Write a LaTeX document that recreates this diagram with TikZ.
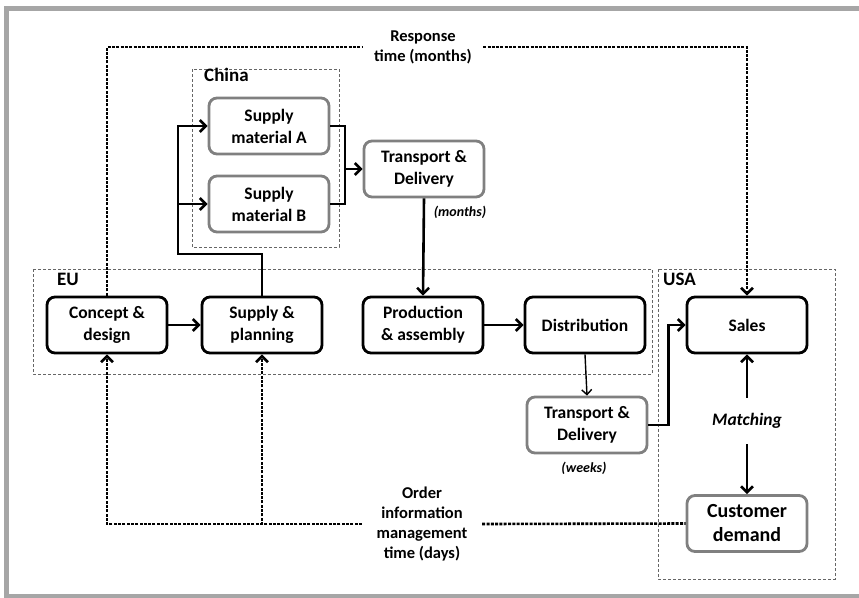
\documentclass[tikz,border=0pt]{standalone}
\usepackage{fontspec}
\setmainfont{Carlito}
\usetikzlibrary{arrows.meta}

\tikzset{
  stage/.style={draw=black, line width=2.8pt, rounded corners=8pt, fill=white,
    minimum width=120pt, minimum height=56pt, inner sep=0pt, align=center,
    font=\fontsize{17.5}{22}\selectfont\bfseries},
  supplier/.style={stage, draw=black!50},
  region/.style={draw=black!60, dash pattern=on 3pt off 2pt, line width=0.9pt},
  flow/.style={line width=2.6pt, -{Straight Barb[length=6pt,width=12pt]}},
  info/.style={flow, dash pattern=on 3pt off 1.3pt},
  note/.style={inner sep=0pt, minimum width=120pt, align=center,
    font=\fontsize{16.5}{20}\selectfont\bfseries},
  tag/.style={anchor=base west, inner sep=0pt, font=\fontsize{19}{22}\selectfont\bfseries}
}

\begin{document}
\begin{tikzpicture}[x=1pt, y=-1pt]
  \useasboundingbox (0,0) rectangle (859,597);
  % Frame
  \draw[black!35, line width=5pt] (6.5,8) rectangle (870,596.5);
  % Regions
  \draw[region] (192,69) rectangle (339,247);
  \draw[region] (33,269) rectangle (652,374);
  \draw[region] (658,269) rectangle (835,579);
  \node[tag] (china) at (204,81) {China};
  \node[tag] (eu) at (57,285) {EU};
  \node[tag] (usa) at (663,285) {USA};
  % Nodes
  \node[stage] (concept) at (107,325) {Concept \&\\design};
  \node[stage] (planning) at (262,325) {Supply \&\\planning};
  \node[stage] (production) at (423,325) {Production\\\& assembly};
  \node[stage] (distribution) at (585,325) {Distribution};
  \node[stage] (sales) at (747,325) {Sales};
  \node[supplier] (supA) at (269,126) {Supply\\material A};
  \node[supplier] (supB) at (269,204) {Supply\\material B};
  \node[supplier] (tdA) at (424,169) {Transport \&\\Delivery};
  \node[supplier] (tdB) at (587,425) {Transport \&\\Delivery};
  \node[supplier, font=\fontsize{20}{24}\selectfont\bfseries] (demand) at (747,523.5) {Customer\\demand};
  \node[note] (resp) at (423,47) {Response\\time (months)};
  \node[note] (order) at (422,524) {Order\\information\\management\\time (days)};
  \node[note, minimum height=46pt, font=\fontsize{17.5}{22}\selectfont\bfseries\itshape] (match) at (747,421) {Matching};
  \node[inner sep=0pt, font=\fontsize{14}{16}\selectfont\bfseries\itshape] (monthsA) at (460,212) {(months)};
  \node[inner sep=0pt, font=\fontsize{14}{16}\selectfont\bfseries\itshape] (weeksB) at (584,468) {(weeks)};
  \coordinate (split) at (178,254);
  \coordinate (merge) at (345,169);
  % Edges
  \draw[flow] (concept) -- (planning);
  \draw[flow] (planning.north) |- (split) |- (supA.west);
  \draw[flow] (split) |- (supB.west);
  \draw[flow, -] (supA.east) -| (merge) |- (supB.east);
  \draw[flow] (merge) -- (tdA.west);
  \draw[flow] (tdA.south) -- (production.north);
  \draw[flow] (production) -- (distribution);
  \draw[flow, line width=1.4pt, -{Straight Barb[length=5pt,width=10pt]}] (distribution.south) -- (tdB.north);
  \draw[flow] (tdB.east) -- ++(20,0) |- (sales.west);
  \draw[flow] (match) -- (sales.south);
  \draw[flow] (match) -- (demand.north);
  \draw[info, -] (concept.north) |- (resp.west);
  \draw[info] (resp.east) -| (sales.north);
  \draw[info] (order.west) -| (concept.south);
  \draw[info] (order.west) -| (planning.south);
  \draw[info, -] (order.east) -- (demand.west);
\end{tikzpicture}
\end{document}
